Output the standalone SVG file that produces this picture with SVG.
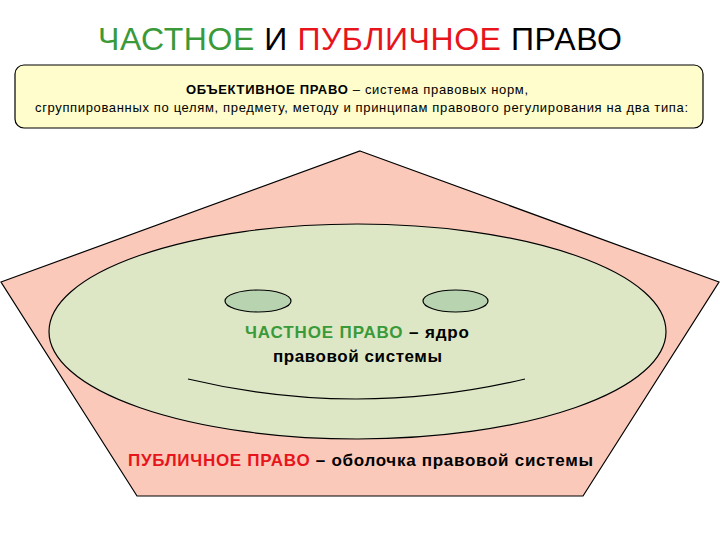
<svg xmlns="http://www.w3.org/2000/svg" width="720" height="540" viewBox="0 0 720 540">
<style>
.t{font-family:"Liberation Sans",Arial,sans-serif}
.shape{stroke:#000;stroke-width:1.2}
.g{fill:#3A9A3A}
.r{fill:#E8141C}
.k{fill:#000}
.b{font-weight:bold}
</style>
<rect width="720" height="540" fill="#fff"/>
<g id="title">
<text class="t" x="98" y="50" font-size="32" textLength="524"><tspan class="g">ЧАСТНОЕ</tspan><tspan class="k"> И </tspan><tspan class="r">ПУБЛИЧНОЕ</tspan><tspan class="k"> ПРАВО</tspan></text>
</g>
<g id="objective-law">
<rect class="shape" x="15" y="65" width="688" height="63" rx="9" fill="#FEFDCB"/>
<text class="t" x="186" y="94" font-size="13" textLength="342"><tspan class="b">ОБЪЕКТИВНОЕ ПРАВО</tspan> – система правовых норм,</text>
<text class="t" x="35" y="112" font-size="13" textLength="653">сгруппированных по целям, предмету, методу и принципам правового регулирования на два типа:</text>
</g>
<g id="public-law">
<polygon class="shape" points="360,151 719,282 583,496 137,496 1,282" fill="#FBC9BA"/>
<text class="t b" x="128" y="466" font-size="17" textLength="465"><tspan class="r">ПУБЛИЧНОЕ ПРАВО</tspan><tspan class="k"> – оболочка правовой системы</tspan></text>
</g>
<g id="private-law">
<ellipse class="shape" cx="357.5" cy="331.5" rx="308.5" ry="107.5" fill="#DDE7C6"/>
<ellipse class="shape" cx="258" cy="301" rx="33" ry="11" fill="#B8D3AF"/>
<ellipse class="shape" cx="455.5" cy="301" rx="32.5" ry="11" fill="#B8D3AF"/>
<path class="shape" d="M188,379 Q356,419 525,379" fill="none"/>
<text class="t b" x="245" y="338" font-size="17" textLength="224"><tspan class="g">ЧАСТНОЕ ПРАВО</tspan><tspan class="k"> – ядро</tspan></text>
<text class="t b" x="273" y="362" font-size="17" textLength="169">правовой системы</text>
</g>
</svg>
